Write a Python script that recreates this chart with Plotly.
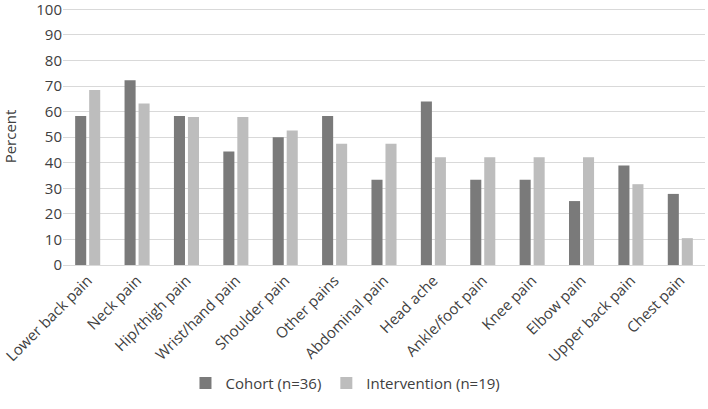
import plotly.graph_objects as go

categories = ["Lower back pain", "Neck pain", "Hip/thigh pain", "Wrist/hand pain",
              "Shoulder pain", "Other pains", "Abdominal pain", "Head ache",
              "Ankle/foot pain", "Knee pain", "Elbow pain", "Upper back pain", "Chest pain"]
cohort = [58.3, 72.2, 58.3, 44.4, 50.0, 58.3, 33.3, 63.9, 33.3, 33.3, 25.0, 38.9, 27.8]
intervention = [68.4, 63.2, 57.9, 57.9, 52.6, 47.4, 47.4, 42.1, 42.1, 42.1, 42.1, 31.6, 10.5]
y_ticks = [0, 10, 20, 30, 40, 50, 60, 70, 80, 90, 100]

font_family = "Open Sans, sans-serif"
text_color = "#404040"

fig = go.Figure()
fig.add_trace(go.Bar(x=categories, y=cohort, name="Cohort (n=36)",
                     marker=dict(color="#7a7a7a", line=dict(width=0))))
fig.add_trace(go.Bar(x=categories, y=intervention, name="Intervention (n=19)",
                     marker=dict(color="#bdbdbd", line=dict(width=0))))

fig.update_layout(
    width=708, height=409,
    margin=dict(l=63, r=3, t=8, b=144, autoexpand=False),
    paper_bgcolor="white", plot_bgcolor="white",
    barmode="group", bargap=0.433, bargroupgap=0.21,
    font=dict(family=font_family, size=15, color=text_color),
    legend=dict(orientation="h", x=0.44, xanchor="center", y=-0.46, yanchor="middle",
                font=dict(size=15, color=text_color), traceorder="normal",
                itemwidth=30),
    xaxis=dict(tickangle=-45, showgrid=False, showline=True, linecolor="#d9d9d9",
               tickfont=dict(size=15, color=text_color), ticks="", automargin=False),
    yaxis=dict(range=[0, 100.5], tickvals=y_ticks, showgrid=True, gridcolor="#d9d9d9",
               zeroline=False, showline=False, ticks="", automargin=False,
               ticklabeloverflow="allow",
               title=dict(text="Percent", font=dict(size=15, color=text_color), standoff=20),
               tickfont=dict(size=15, color=text_color)),
)

fig.write_html("out.html", post_script="document.body.style.margin='0';",
               config={"displayModeBar": False})
